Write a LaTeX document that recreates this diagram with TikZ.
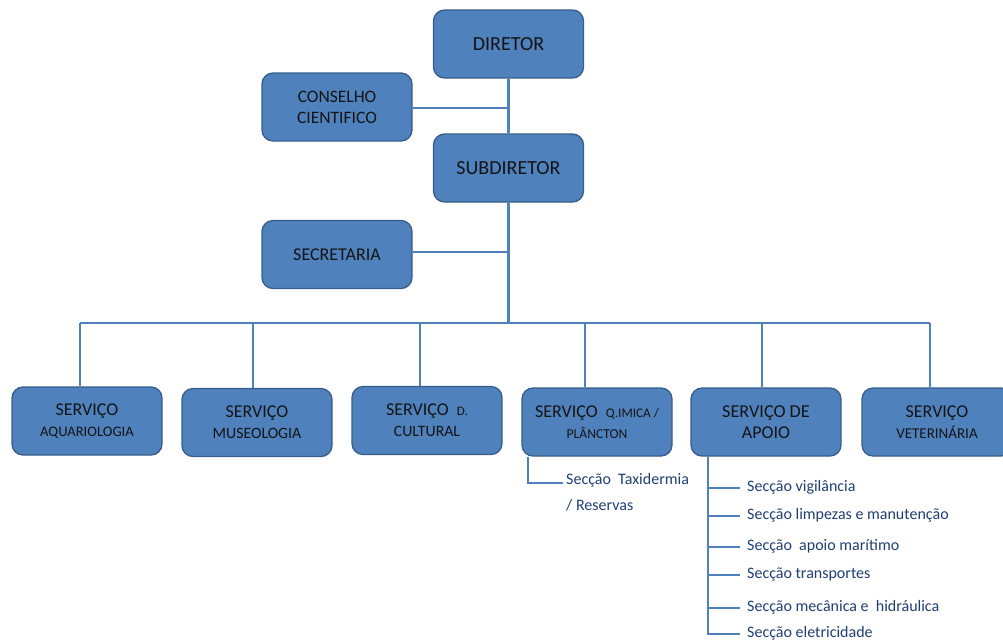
\documentclass[tikz,border=0pt]{standalone}
\usepackage{fontspec}
\setmainfont{Carlito}
\newcommand\fsz[1]{\fontsize{#1}{21}\selectfont}
\definecolor{boxfill}{HTML}{4F81BD}
\definecolor{boxedge}{HTML}{385D8A}
\definecolor{linecol}{HTML}{4F81BD}
\definecolor{sectxt}{HTML}{1F3F73}
\definecolor{boxtxt}{HTML}{141414}
\tikzset{
  orgbox/.style={draw=boxedge, line width=1.3pt, fill=boxfill, rounded corners=11pt,
    minimum width=150pt, minimum height=68pt, inner sep=0pt, align=center,
    text=boxtxt, font=\fsz{17.5}},
  conn/.style={draw=linecol, line width=2.4pt},
  secline/.style={draw=linecol, line width=2.2pt},
  sectext/.style={text=sectxt, font=\fontsize{16}{26}\selectfont, anchor=west, inner xsep=7pt, inner ysep=0pt, align=left}
}
\begin{document}
\begin{tikzpicture}[x=1pt,y=-1pt]
\useasboundingbox (0,0) rectangle (1003,641);
% top
\node[orgbox, font=\fsz{20}] (dir) at (508.5,44) {DIRETOR};
\node[orgbox] (cons) at (337,107) {CONSELHO\\CIENTIFICO};
\node[orgbox, font=\fsz{20}] (sub) at (508.5,168) {SUBDIRETOR};
\node[orgbox, font=\fsz{18}] (sec) at (337,254.5) {SECRETARIA};
% services
\node[orgbox] (s1) at (87,421) {\fsz{18}SERVIÇO\\\fsz{14.6}AQUARIOLOGIA};
\node[orgbox] (s2) at (257,422.5) {\fsz{18}SERVIÇO\\\fsz{15.8}MUSEOLOGIA};
\node[orgbox] (s3) at (427,420.5) {\fsz{18}SERVIÇO\ \ {\fsz{13}D.}\\\fsz{15.8}CULTURAL};
\node[orgbox] (s4) at (597,422) {\fsz{18}SERVIÇO\ \ {\fsz{13.2}Q.IMICA /}\\\fsz{13.6}PLÂNCTON};
\node[orgbox] (s5) at (766,422) {\fsz{18.2}SERVIÇO DE\\\fsz{18}APOIO};
\node[orgbox] (s6) at (937,422) {\fsz{18}SERVIÇO\\\fsz{15}VETERINÁRIA};
% coordinates on the bus
\coordinate (bus) at (508.5,323);
\coordinate (b1) at (80,323);
\coordinate (b2) at (253,323);
\coordinate (b3) at (420,323);
\coordinate (b4) at (585,323);
\coordinate (b5) at (762,323);
\coordinate (b6) at (930,323);
% connectors
\draw[conn] (dir.south) -- (sub.north);
\draw[conn] ([yshift=-1]cons.east) -- ([yshift=-1]cons.east -| dir.south);
\draw[conn] (sub.south) -- (bus);
\draw[conn] ([yshift=2.5]sec.east) -- ([yshift=2.5]sec.east -| bus);
\draw[conn] (b1) -- (b6);
\draw[conn] (b1) -- (b1 |- s1.north);
\draw[conn] (b2) -- (b2 |- s2.north);
\draw[conn] (b3) -- (b3 |- s3.north);
\draw[conn] (b4) -- (b4 |- s4.north);
\draw[conn] (b5) -- (b5 |- s5.north);
\draw[conn] (b6) -- (b6 |- s6.north);
% sections
\node[sectext, anchor=north west, inner xsep=3pt] (tax) at (563,473) {Secção\ \ Taxidermia\\/ Reservas};
\draw[secline] ([xshift=-69]s4.south) |- (563,483);
\node[sectext] (v1) at (740,487) {Secção vigilância};
\node[sectext] (v2) at (740,515) {Secção limpezas e manutenção};
\node[sectext] (v3) at (740,546) {Secção\ \ apoio marítimo};
\node[sectext] (v4) at (740,574) {Secção transportes};
\node[sectext] (v5) at (740,607) {Secção mecânica e\ \ hidráulica};
\node[sectext] (v6) at (740,633) {Secção eletricidade};
\coordinate (tr) at ([xshift=-58]s5.south);
\draw[secline] (tr) |- ([yshift=-1]v6.west);
\foreach \v in {v1,v2,v3,v4,v5} \draw[secline] (tr) |- ([yshift=-1]\v.west);
\end{tikzpicture}
\end{document}
